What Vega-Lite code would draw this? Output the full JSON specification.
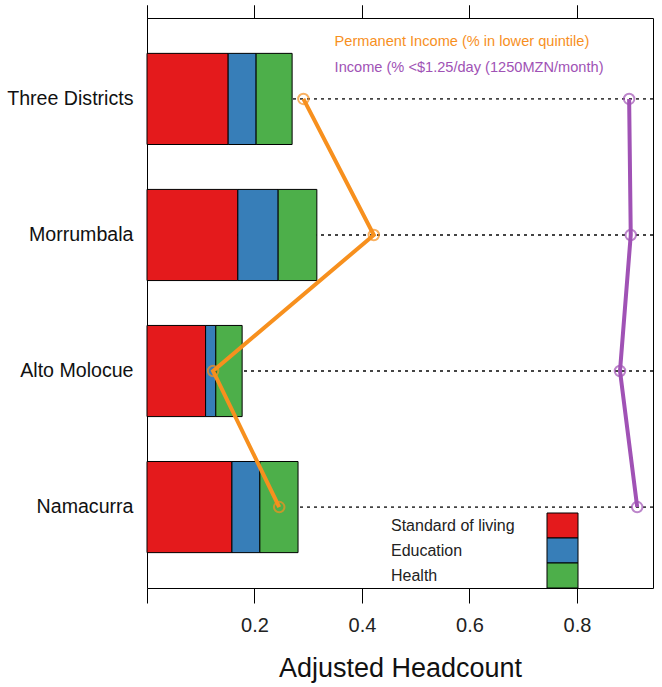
{
  "$schema": "https://vega.github.io/schema/vega-lite/v6.json",
  "width": 506,
  "height": 570,
  "autosize": {"type": "none"},
  "padding": {"left": 147, "top": 18, "right": 9, "bottom": 99},
  "background": "white",
  "config": {
    "view": {"stroke": "black", "strokeWidth": 1},
    "font": "Liberation Sans"
  },
  "datasets": {
    "rows": [
      {"district": "Three Districts"},
      {"district": "Morrumbala"},
      {"district": "Alto Molocue"},
      {"district": "Namacurra"}
    ],
    "bars": [
      {"district": "Three Districts", "component": "Standard of living", "k": 1, "value": 0.151},
      {"district": "Three Districts", "component": "Education", "k": 2, "value": 0.052},
      {"district": "Three Districts", "component": "Health", "k": 3, "value": 0.067},
      {"district": "Morrumbala", "component": "Standard of living", "k": 1, "value": 0.169},
      {"district": "Morrumbala", "component": "Education", "k": 2, "value": 0.075},
      {"district": "Morrumbala", "component": "Health", "k": 3, "value": 0.072},
      {"district": "Alto Molocue", "component": "Standard of living", "k": 1, "value": 0.109},
      {"district": "Alto Molocue", "component": "Education", "k": 2, "value": 0.019},
      {"district": "Alto Molocue", "component": "Health", "k": 3, "value": 0.049},
      {"district": "Namacurra", "component": "Standard of living", "k": 1, "value": 0.158},
      {"district": "Namacurra", "component": "Education", "k": 2, "value": 0.052},
      {"district": "Namacurra", "component": "Health", "k": 3, "value": 0.071}
    ],
    "lines": [
      {"district": "Three Districts", "series": "Permanent Income (% in lower quintile)", "rank": 1, "value": 0.291},
      {"district": "Morrumbala", "series": "Permanent Income (% in lower quintile)", "rank": 2, "value": 0.422},
      {"district": "Alto Molocue", "series": "Permanent Income (% in lower quintile)", "rank": 3, "value": 0.123},
      {"district": "Namacurra", "series": "Permanent Income (% in lower quintile)", "rank": 4, "value": 0.246},
      {"district": "Three Districts", "series": "Income (% <$1.25/day (1250MZN/month)", "rank": 1, "value": 0.897},
      {"district": "Morrumbala", "series": "Income (% <$1.25/day (1250MZN/month)", "rank": 2, "value": 0.9},
      {"district": "Alto Molocue", "series": "Income (% <$1.25/day (1250MZN/month)", "rank": 3, "value": 0.88},
      {"district": "Namacurra", "series": "Income (% <$1.25/day (1250MZN/month)", "rank": 4, "value": 0.912}
    ]
  },
  "encoding": {
    "y": {
      "field": "district",
      "type": "nominal",
      "sort": ["Three Districts", "Morrumbala", "Alto Molocue", "Namacurra"],
      "scale": {"paddingInner": 0.33, "paddingOuter": 0.26},
      "axis": {
        "title": null,
        "ticks": false,
        "domain": false,
        "grid": false,
        "labelFontSize": 19.6,
        "labelColor": "#111",
        "labelPadding": 14
      }
    }
  },
  "layer": [
    {
      "data": {"name": "rows"},
      "mark": {"type": "rule", "strokeDash": [3, 4], "color": "#444", "strokeWidth": 1.8}
    },
    {
      "data": {"name": "bars"},
      "mark": {"type": "bar", "stroke": "black", "strokeWidth": 1},
      "encoding": {
        "x": {
          "field": "value",
          "type": "quantitative",
          "stack": "zero",
          "scale": {"domain": [0, 0.9414], "nice": false},
          "axis": {
            "orient": "bottom",
            "values": [0, 0.2, 0.4, 0.6, 0.8],
            "labelExpr": "datum.value == 0 ? '' : format(datum.value, '.1f')",
            "domain": false,
            "grid": false,
            "tickColor": "black",
            "tickSize": 15,
            "labelFontSize": 20,
            "labelColor": "#222",
            "labelPadding": 12,
            "title": "Adjusted Headcount",
            "titleFontSize": 27,
            "titleFontWeight": "normal",
            "titleColor": "#111",
            "titlePadding": 20
          }
        },
        "fill": {
          "field": "component",
          "type": "nominal",
          "scale": {
            "domain": ["Standard of living", "Education", "Health"],
            "range": ["#e41a1c", "#377eb8", "#4daf4a"]
          },
          "legend": {
            "title": null,
            "orient": "none",
            "legendX": 405,
            "legendY": 497,
            "padding": 0,
            "rowPadding": -4,
            "symbolType": "M-1.55,-1.25L1.55,-1.25L1.55,1.25L-1.55,1.25Z",
            "symbolSize": 400,
            "symbolStrokeColor": "black",
            "symbolStrokeWidth": 1,
            "symbolOpacity": 1,
            "labelAlign": "left",
            "labelOffset": -182,
            "labelFontSize": 16,
            "labelColor": "#222",
            "labelLimit": 300
          }
        },
        "order": {"field": "k", "type": "quantitative"}
      }
    },
    {
      "data": {"name": "lines"},
      "mark": {"type": "line", "strokeWidth": 4},
      "encoding": {
        "x": {
          "field": "value",
          "type": "quantitative",
          "axis": {
            "orient": "top",
            "values": [0, 0.2, 0.4, 0.6, 0.8],
            "labels": false,
            "domain": false,
            "grid": false,
            "tickColor": "black",
            "tickSize": 13,
            "title": null
          }
        },
        "stroke": {
          "field": "series",
          "type": "nominal",
          "scale": {
            "domain": ["Permanent Income (% in lower quintile)", "Income (% <$1.25/day (1250MZN/month)"],
            "range": ["#f7901e", "#a052b5"]
          },
          "legend": {
            "title": null,
            "orient": "none",
            "legendX": 173,
            "legendY": 17,
            "padding": 0,
            "rowPadding": 11,
            "symbolOpacity": 0,
            "symbolSize": 1,
            "symbolStrokeWidth": 0,
            "labelOffset": 0,
            "labelFontSize": 14.6,
            "labelLimit": 400,
            "labelColor": {"expr": "indexof(datum.value, 'Permanent') >= 0 ? '#f7901e' : '#a052b5'"}
          }
        },
        "order": {"field": "rank", "type": "quantitative"}
      }
    },
    {
      "data": {"name": "lines"},
      "mark": {"type": "point", "filled": false, "size": 110, "strokeWidth": 2, "opacity": 0.7},
      "encoding": {
        "x": {
          "field": "value",
          "type": "quantitative",
          "axis": {
            "orient": "top",
            "values": [0, 0.2, 0.4, 0.6, 0.8],
            "labels": false,
            "domain": false,
            "grid": false,
            "tickColor": "black",
            "tickSize": 13,
            "title": null
          }
        },
        "stroke": {"field": "series", "type": "nominal"}
      }
    }
  ]
}
